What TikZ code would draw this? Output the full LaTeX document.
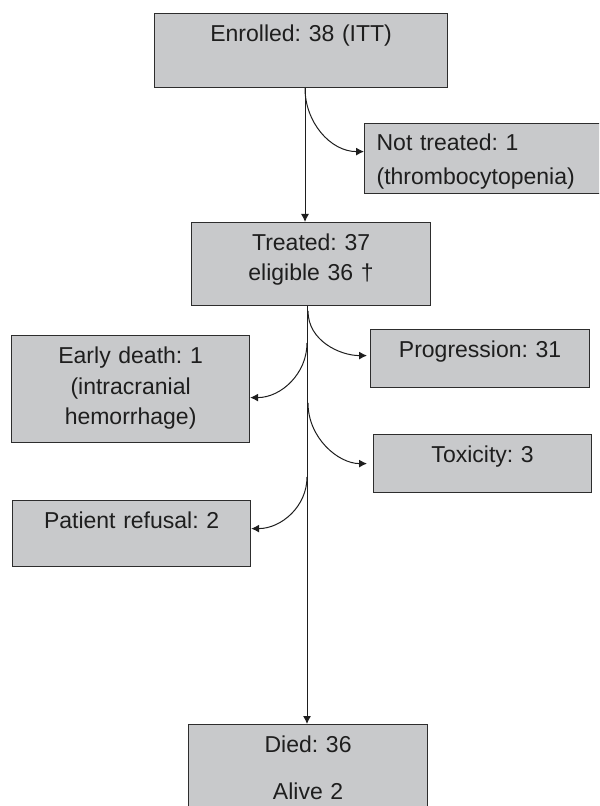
\documentclass[tikz,border=0pt]{standalone}
\usepackage{fontspec}
\setmainfont{Liberation Sans}
\frenchspacing
\usetikzlibrary{positioning,arrows.meta}
\definecolor{boxfill}{RGB}{200,201,203}
\definecolor{boxline}{RGB}{45,45,45}
\definecolor{ink}{RGB}{30,30,30}
\begin{document}
\begin{tikzpicture}[x=0.5pt,y=-0.5pt,
    box/.style = {draw=boxline, fill=boxfill, line width=0.6pt, inner sep=0pt,
        anchor=north west, align=center, text=ink, text height=14pt,
        font=\fontsize{11.5}{15.2}\selectfont},
    link/.style = {draw=ink, line width=0.5pt, -{Latex[length=4pt,width=4pt]}}]
    \useasboundingbox (0,0) rectangle (599,806);
    \clip (0,0) rectangle (599,806);
    \node[box, text width=146.5pt, text depth=23pt] (enrolled) at (154,13) {Enrolled: 38 (ITT)};
    \node[box, text width=113pt, inner xsep=6pt, align=left, text height=13.5pt, text depth=21.5pt] (nottreated) at (364,123) {Not treated: 1\\[2pt](thrombocytopenia)};
    \node[box, text width=119.5pt, text depth=27.5pt] (treated) at (191,222) {Treated: 37\\eligible 36 †};
    \node[box, text width=109.5pt, text depth=15pt] (progression) at (370,329) {Progression: 31};
    \node[box, text width=119pt, text depth=39.5pt] (earlydeath) at (11,335) {Early death: 1\\(intracranial\\hemorrhage)};
    \node[box, text width=109pt, text depth=15pt] (toxicity) at (373,434) {Toxicity: 3};
    \node[box, text width=119pt, text depth=19pt] (refusal) at (12,500) {Patient refusal: 2};
    \node[box, text width=119.5pt, text depth=36pt] (died) at (188,724) {Died: 36\\[8pt]Alive 2};
    \coordinate (colA) at (305,0);
    \coordinate (colB) at (307,0);
    \coordinate (b1) at (308,311);
    \coordinate (b2) at (307,343);
    \coordinate (b3) at (308,403);
    \coordinate (b4) at (307,477);
    \draw[link] (enrolled.south -| colA) -- (treated.north -| colA);
    \draw[link] (treated.south -| colB) -- (died.north -| colB);
    \draw[link] (enrolled.south -| colA) to[out=-90, in=180] ([yshift=3.5pt]nottreated.west);
    \draw[link, shorten >=1.5pt] (b1) to[out=-90, in=180] ([yshift=1.5pt]progression.west);
    \draw[link] (b2) to[out=-90, in=0] ([yshift=-4.25pt]earlydeath.east);
    \draw[link, shorten >=3pt] (b3) to[out=-90, in=180] (toxicity.west);
    \draw[link] (b4) to[out=-90, in=0] ([yshift=2.5pt]refusal.east);
\end{tikzpicture}
\end{document}
